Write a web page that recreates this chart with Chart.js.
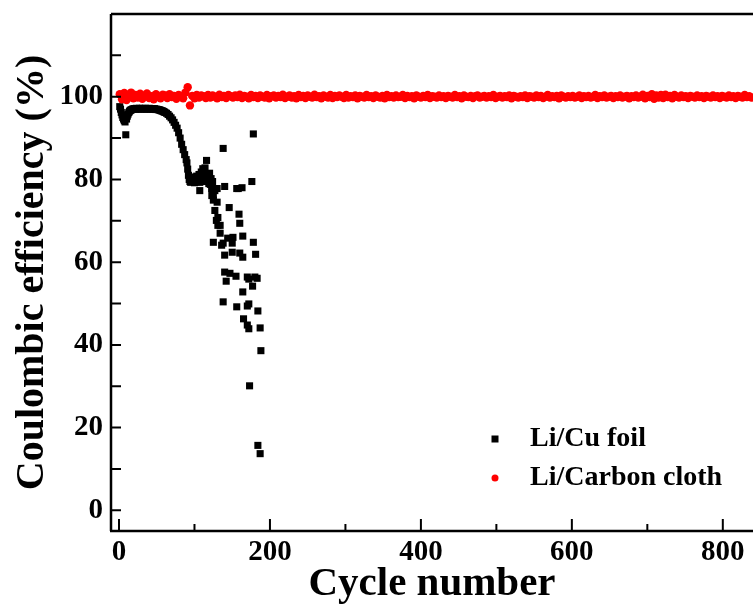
<!DOCTYPE html>
<html>
<head>
<meta charset="utf-8">
<script src="https://cdn.jsdelivr.net/npm/chart.js@4.4.1/dist/chart.umd.min.js"></script>
<style>
  body { margin: 0; background: #fff; }
  canvas { display: block; }
</style>
</head>
<body>
<canvas id="ce" width="753" height="607"></canvas>
<script>
// tick labels
var xTicks = [0, 200, 400, 600, 800];
var yTicks = [0, 20, 40, 60, 80, 100];

// Li/Cu foil: cycle number and coulombic efficiency (%)
var cuCycles = [
  1, 2, 3, 4, 5, 6, 7, 8, 9, 10, 11, 12, 13, 14, 15, 16, 17, 18, 19, 20,
  21, 22, 23, 24, 25, 26, 27, 28, 29, 30, 31, 32, 33, 34, 35, 36, 37, 38, 39, 40,
  41, 42, 43, 44, 45, 46, 47, 48, 49, 50, 51, 52, 53, 54, 55, 56, 57, 58, 59, 60,
  61, 63, 65, 67, 69, 71, 73, 75, 77, 79, 81, 83, 85, 87, 89, 90, 91, 92, 93, 94,
  95, 96, 97, 98, 99, 100, 101, 102, 103, 104, 105, 106, 107, 108, 109, 110, 111, 112, 113, 114,
  115, 116, 117, 118, 119, 120, 121, 122, 123, 124, 125,
  107, 123, 130, 140, 158, 163, 176, 178, 138, 127, 156,
  123, 125, 130, 127, 146, 159, 131, 129, 134, 160, 134, 125, 136, 144, 151, 164, 178, 131,
  138, 150, 140, 150, 160, 164, 181,
  140, 147, 155, 142, 170, 180, 183, 172, 177, 164,
  138, 156, 170, 172, 184,
  165, 170, 172, 187,
  188, 173, 184, 187
];
var cuValues = [
  97.6, 97.0, 96.2, 95.6, 95.0, 94.6, 94.2, 93.9, 90.8, 94.6, 95.3, 95.8, 96.2, 96.5, 96.7, 96.8, 96.9, 97.0, 97.0, 97.1,
  97.1, 97.0, 97.2, 97.1, 97.0, 97.1, 97.2, 97.1, 97.0, 97.1, 97.2, 97.1, 97.1, 97.0, 97.2, 97.1, 97.0, 97.1, 97.1, 97.2,
  97.0, 97.1, 97.1, 97.0, 97.1, 97.0, 97.1, 97.0, 96.9, 97.0, 96.9, 96.9, 96.8, 96.8, 96.7, 96.6, 96.6, 96.5, 96.4, 96.3,
  96.2, 96.0, 95.7, 95.3, 94.9, 94.4, 93.8, 93.1, 92.4, 91.3, 90.0, 88.5, 87.2, 86.0, 84.8, 84.0, 82.5, 81.0, 80.0, 79.5,
  79.3, 79.8, 80.2, 79.5, 80.6, 79.2, 80.0, 79.4, 80.8, 79.6, 80.3, 81.2, 79.3, 80.5, 81.8, 80.0, 82.6, 79.5, 81.0, 82.8,
  80.2, 84.6, 81.3, 80.8, 79.0, 81.5, 78.8, 80.2, 77.8, 79.5, 76.2,
  77.3, 77.8, 77.8, 78.3, 77.8, 78.0, 79.5, 91.0, 87.5, 77.3, 77.8,
  76.1, 75.0, 74.5, 72.5, 73.2, 71.6, 70.8, 70.1, 68.9, 69.4, 67.0, 64.8, 64.1, 65.8, 66.0, 66.3, 64.8, 68.9,
  64.6, 64.6, 61.7, 62.4, 62.2, 61.2, 61.9,
  57.6, 57.3, 56.6, 55.4, 56.4, 56.4, 56.1, 55.9, 54.2, 52.8,
  50.4, 49.2, 49.4, 49.9, 48.2,
  46.3, 44.8, 43.9, 44.1,
  38.6, 30.1, 15.7, 13.7
];

// Li/Carbon cloth: one value every 3 cycles, starting at cycle 1
var ccValues = [
  100.6, 99.4, 100.9, 99.2, 100.3, 101.0, 99.6, 100.4, 99.8, 100.7, 99.5, 100.2, 100.8, 99.7, 100.1, 99.4, 100.6, 100.0, 99.6, 100.5,
  100.3, 99.7, 100.6, 99.9, 100.2, 99.5, 100.4, 100.0, 99.6, 101.0, 102.3, 97.9, 100.2, 99.6, 100.4, 99.8, 100.3, 100.1, 99.7, 100.4,
  99.8, 100.3, 100.0, 99.6, 100.5, 99.9, 100.2, 99.7, 100.4, 100.1, 99.8, 100.3, 99.9, 100.5, 99.7, 100.2, 100.0, 99.6, 100.4, 99.9,
  100.2, 99.7, 100.3, 100.0, 99.8, 100.4, 99.6, 100.1, 100.3, 99.8, 100.2, 99.9, 100.5, 99.7, 100.0, 100.3, 99.8, 100.1, 99.6, 100.4,
  99.9, 100.2, 99.7, 100.3, 100.0, 99.8, 100.5, 99.9, 100.1, 99.6, 100.3, 100.0, 99.8, 100.4, 99.7, 100.2, 99.9, 100.3, 100.0, 99.7,
  100.4, 99.8, 100.1, 99.9, 100.3, 99.6, 100.2, 100.0, 99.8, 100.4, 99.9, 100.1, 99.7, 100.3, 100.0, 99.8, 100.2, 99.6, 100.4, 99.9,
  100.1, 99.8, 100.3, 99.9, 100.0, 100.4, 99.7, 100.2, 99.9, 100.1, 99.6, 100.3, 100.0, 99.8, 100.2, 99.9, 100.4, 99.7, 100.1, 100.0,
  99.8, 100.3, 99.9, 100.1, 99.7, 100.2, 100.0, 99.8, 100.4, 99.9, 100.1, 99.6, 100.3, 100.0, 99.9, 100.2, 99.7, 100.1, 100.3, 99.8,
  100.0, 100.2, 99.8, 100.1, 99.9, 100.4, 99.7, 100.0, 100.2, 99.8, 100.1, 99.9, 100.3, 99.6, 100.2, 100.0, 99.8, 100.1, 99.9, 100.3,
  99.7, 100.1, 100.0, 99.8, 100.3, 99.9, 100.2, 99.7, 100.0, 100.4, 99.8, 100.1, 99.9, 100.2, 99.6, 100.3, 100.0, 99.8, 100.1, 99.9,
  100.2, 99.8, 100.0, 100.3, 99.7, 100.1, 99.9, 100.2, 99.8, 100.0, 100.4, 99.7, 100.1, 99.9, 100.3, 99.8, 100.0, 100.2, 99.7, 100.1,
  99.9, 100.3, 99.8, 100.0, 100.2, 99.6, 100.1, 99.9, 100.3, 99.8, 100.0, 100.5, 99.6, 100.2, 99.9, 100.6, 99.5, 100.3, 99.8, 100.4,
  99.7, 100.5, 99.9, 100.2, 99.6, 100.4, 100.0, 99.8, 100.3, 99.9, 100.1, 99.7, 100.2, 100.0, 99.8, 100.3, 99.9, 100.1, 99.7, 100.2,
  100.0, 99.8, 100.3, 99.9, 100.1, 99.7, 100.2, 100.0, 99.8, 100.3, 99.9, 100.1, 99.7, 100.2, 100.0, 99.8, 100.4, 99.9, 100.1, 99.8
];

var serif = '"Liberation Serif", "Times New Roman", serif';

var cuPoints = cuCycles.map(function (c, i) { return { x: c, y: cuValues[i] }; });
var ccPoints = ccValues.map(function (v, i) { return { x: 1 + i * 3, y: v }; });

// frame, inward ticks and inset legend
var framePlugin = {
  id: 'frame',
  afterDraw: function (chart) {
    var c = chart.ctx, a = chart.chartArea;
    var xs = chart.scales.x, ys = chart.scales.y;
    c.save();
    c.strokeStyle = '#000';
    c.lineWidth = 2.5;
    c.beginPath();
    c.moveTo(a.left, a.top); c.lineTo(a.right, a.top);
    c.moveTo(a.left, a.top); c.lineTo(a.left, a.bottom);
    c.moveTo(a.left - 1, a.bottom); c.lineTo(a.right, a.bottom);
    c.stroke();
    c.lineWidth = 2;
    c.beginPath();
    for (var v = 0; v <= 800; v += 100) {
      var px = xs.getPixelForValue(v);
      c.moveTo(px, a.bottom);
      c.lineTo(px, a.bottom - (v % 200 === 0 ? 12 : 7));
    }
    for (var w = 0; w < 120; w += 10) {
      var py = ys.getPixelForValue(w);
      c.moveTo(a.left, py);
      c.lineTo(a.left + 10, py);
    }
    c.stroke();

    // legend
    var sx = a.right - 258, tx = a.right - 223;
    var y1 = a.bottom - 92, y2 = a.bottom - 53;
    c.fillStyle = '#000';
    c.fillRect(sx - 3.5, y1 - 3.5, 7, 7);
    c.fillStyle = '#f00';
    c.beginPath(); c.arc(sx, y2, 3.5, 0, Math.PI * 2); c.fill();
    c.fillStyle = '#000';
    c.font = 'bold 28px ' + serif;
    c.textBaseline = 'middle';
    c.textAlign = 'left';
    c.fillText(chart.data.datasets[1].label, tx, y1);
    c.fillText(chart.data.datasets[0].label, tx, y2);
    c.restore();
  }
};

new Chart(document.getElementById('ce').getContext('2d'), {
  type: 'scatter',
  data: {
    datasets: [{
      label: 'Li/Carbon cloth',
      data: ccPoints,
      pointStyle: 'circle',
      pointRadius: 4.2,
      borderWidth: 0,
      backgroundColor: '#ff0000',
      borderColor: '#ff0000'
    }, {
      label: 'Li/Cu foil',
      data: cuPoints,
      pointStyle: 'rect',
      pointRadius: 5,
      borderWidth: 0,
      backgroundColor: '#000',
      borderColor: '#000'
    }]
  },
  options: {
    responsive: false,
    animation: false,
    layout: { autoPadding: false, padding: { top: 14, left: 0, right: 0, bottom: 0 } },
    plugins: { legend: { display: false }, tooltip: { enabled: false } },
    scales: {
      x: {
        type: 'linear',
        min: -10.6,
        max: 840,
        grid: { display: false, drawTicks: false },
        border: { display: false },
        afterBuildTicks: function (s) { s.ticks = xTicks.map(function (v) { return { value: v }; }); },
        afterFit: function (s) { s.height = 76; s.paddingLeft = 0; s.paddingRight = 0; },
        ticks: {
          autoSkip: false, maxRotation: 0, padding: 4, color: '#000',
          font: { family: serif, size: 29, weight: 'bold' },
          callback: function (v) { return String(v); }
        },
        title: {
          display: true, text: 'Cycle number', color: '#000',
          padding: { top: 0, bottom: 2 },
          font: { family: serif, size: 41, weight: 'bold', lineHeight: 1 }
        }
      },
      y: {
        type: 'linear',
        min: -5,
        max: 120,
        grid: { display: false, drawTicks: false },
        border: { display: false },
        afterBuildTicks: function (s) { s.ticks = yTicks.map(function (v) { return { value: v }; }); },
        afterFit: function (s) { s.width = 111; s.paddingTop = 0; s.paddingBottom = 0; },
        ticks: {
          autoSkip: false, padding: 8, color: '#000',
          font: { family: serif, size: 29, weight: 'bold' },
          callback: function (v) { return String(v); }
        },
        title: {
          display: true, text: 'Coulombic efficiency (%)', color: '#000',
          padding: { top: 9, bottom: 0 },
          font: { family: serif, size: 40, weight: 'bold' }
        }
      }
    }
  },
  plugins: [framePlugin]
});
</script>
</body>
</html>
